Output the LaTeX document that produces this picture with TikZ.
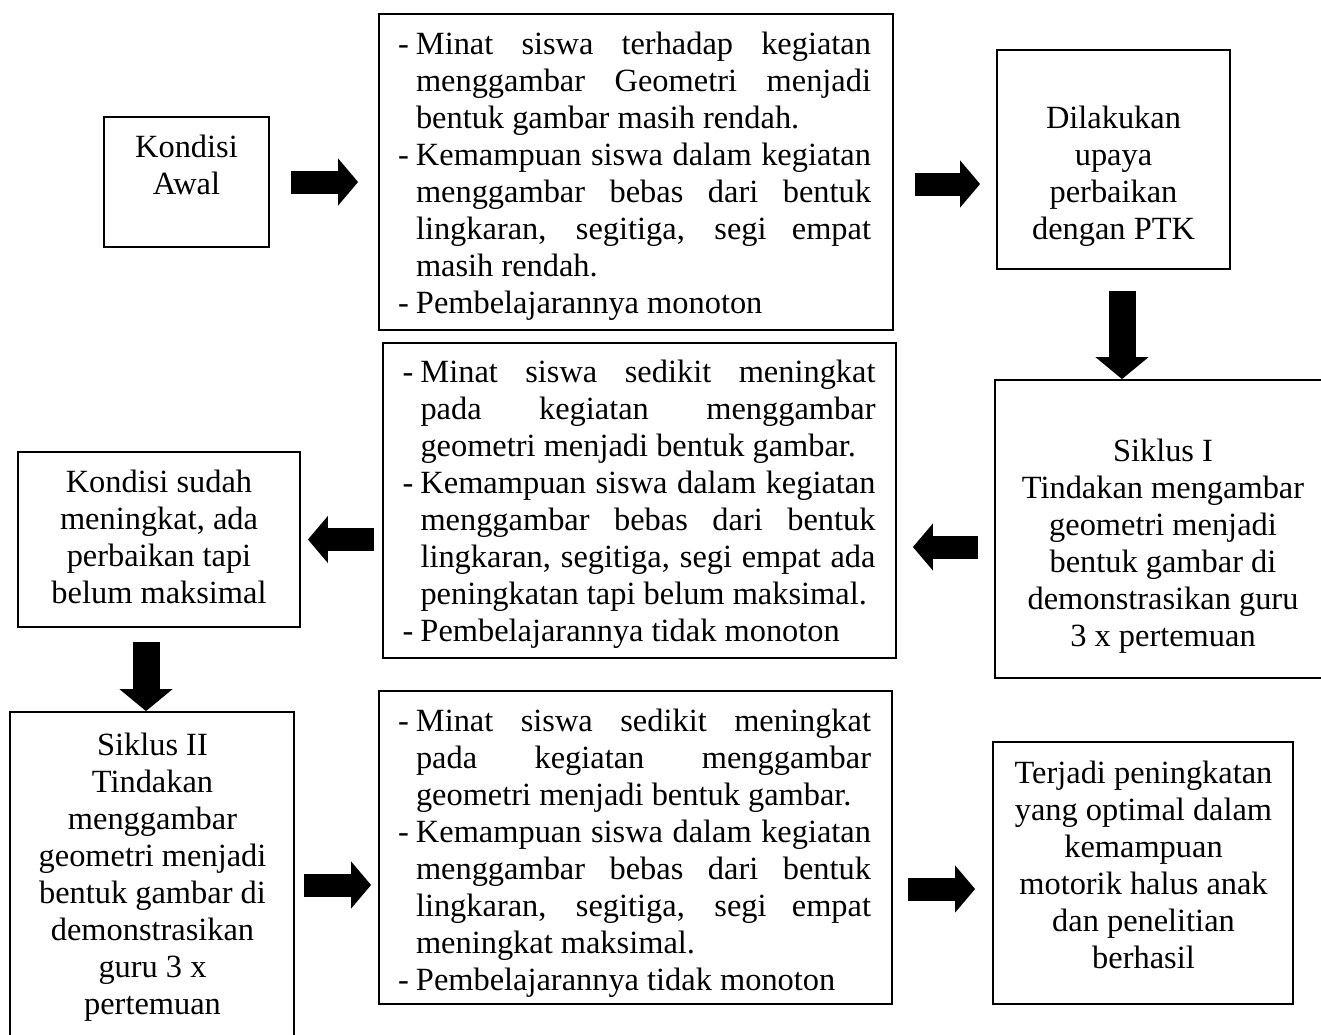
\documentclass[tikz,border=0pt]{standalone}
\usepackage{fontspec}
\setmainfont{Liberation Serif}
\usetikzlibrary{arrows.meta}

\tolerance=10000
\hyphenpenalty=10000
\newcommand{\butir}[1]{\noindent\hangindent=9pt\hangafter=1\makebox[9pt][l]{-}#1\par}

\tikzset{
  kotak/.style={draw, line width=0.9pt, inner sep=0pt},
  teks/.style={align=center, inner sep=0pt, font=\fontsize{16.2}{18.5}\selectfont},
  butirteks/.style={text width=236.5pt, align=justify, inner sep=0pt, font=\fontsize{16.2}{18.5}\selectfont},
  panah/.style={line width=11.5pt, -{Triangle[length=10pt,width=23pt]}},
  panahturun/.style={line width=13.5pt, -{Triangle[length=11pt,width=26pt]}}
}

\begin{document}
\begin{tikzpicture}[x=0.5pt,y=-0.5pt]
  \useasboundingbox (0,0) rectangle (1321,1034);
  % kotak-kotak
  \node[kotak, minimum width=82.5pt, minimum height=65pt] (awal) at (186.5,182) {};
  \node[kotak, minimum width=257pt, minimum height=158pt] (masalah) at (636,172) {};
  \node[kotak, minimum width=116.5pt, minimum height=109.5pt] (upaya) at (1113.5,159.5) {};
  \node[kotak, minimum width=168.5pt, minimum height=149pt] (siklus1) at (1163.5,529) {};
  \node[kotak, minimum width=256.5pt, minimum height=157.5pt] (hasil1) at (639.5,500.5) {};
  \node[kotak, minimum width=141pt, minimum height=87.5pt] (kondisi2) at (159,539.5) {};
  \node[kotak, minimum width=142pt, minimum height=164pt] (siklus2) at (152,876) {};
  \node[kotak, minimum width=256.5pt, minimum height=156.5pt] (hasil2) at (635.5,847.5) {};
  \node[kotak, minimum width=150pt, minimum height=131pt] (terjadi) at (1143,873) {};

  % isi
  \node[teks] (tawal) at (186.5,164.5) {Kondisi\\Awal};
  \node[butirteks] (tmasalah) at (634.5,176) {%
    \butir{Minat siswa terhadap kegiatan\linebreak menggambar Geometri menjadi\linebreak bentuk gambar masih rendah.}%
    \butir{Kemampuan siswa dalam kegiatan\linebreak menggambar bebas dari bentuk\linebreak lingkaran, segitiga, segi empat\linebreak masih rendah.}%
    \butir{Pembelajarannya monoton}};
  \node[teks] (tupaya) at (1113.5,176.5) {Dilakukan\\upaya\\perbaikan\\dengan PTK};
  \node[teks] (tsiklus1) at (1163,546) {Siklus I\\Tindakan mengambar\\geometri menjadi\\bentuk gambar di\\demonstrasikan guru\\3 x pertemuan};
  \node[butirteks] (thasil1) at (639,504) {%
    \butir{Minat siswa sedikit meningkat\linebreak pada kegiatan menggambar\linebreak geometri menjadi bentuk gambar.}%
    \butir{Kemampuan siswa dalam kegiatan\linebreak menggambar bebas dari bentuk\linebreak lingkaran, segitiga, segi empat ada\linebreak peningkatan tapi belum maksimal.}%
    \butir{Pembelajarannya tidak monoton}};
  \node[teks] (tkondisi2) at (159,537) {Kondisi sudah\\meningkat, ada\\perbaikan tapi\\belum maksimal};
  \node[teks] (tsiklus2) at (152.5,877.5) {Siklus II\\Tindakan\\menggambar\\geometri menjadi\\bentuk gambar di\\demonstrasikan\\guru 3 x\\pertemuan};
  \node[butirteks] (thasil2) at (634.5,853) {%
    \butir{Minat siswa sedikit meningkat\linebreak pada kegiatan menggambar\linebreak geometri menjadi bentuk gambar.}%
    \butir{Kemampuan siswa dalam kegiatan\linebreak menggambar bebas dari bentuk\linebreak lingkaran, segitiga, segi empat\linebreak meningkat maksimal.}%
    \butir{Pembelajarannya tidak monoton}};
  \node[teks] (tterjadi) at (1143.5,864.5) {Terjadi peningkatan\\yang optimal dalam\\kemampuan\\motorik halus anak\\dan penelitian\\berhasil};

  % panah
  \draw[panah, shorten <=10.5pt, shorten >=10pt] (awal.east) -- (awal.east -| masalah.west);
  \draw[panah, shorten <=10.5pt, shorten >=8pt] ([yshift=-1pt]masalah.east |- awal.east) -- ([yshift=-1pt]upaya.west |- awal.east);
  \draw[panahturun, shorten <=10.5pt] ([xshift=4.25pt]upaya.south) -- ([xshift=4.25pt]upaya.south |- siklus1.north);
  \draw[panah, shorten <=8pt, shorten >=8pt] ([yshift=-9pt]siklus1.west) -- ([yshift=-9pt]siklus1.west -| hasil1.east);
  \draw[panah, shorten <=4pt, shorten >=3.5pt] (hasil1.west |- kondisi2.east) -- (kondisi2.east);
  \draw[panahturun, shorten <=7pt] ([xshift=-6.5pt]kondisi2.south) -- ([xshift=-6.5pt]kondisi2.south |- siklus2.north);
  \draw[panah, shorten <=4.5pt, shorten >=3.5pt] (siklus2.east |- 0,885) -- (hasil2.west |- 0,885);
  \draw[panah, shorten <=7.5pt, shorten >=8.5pt] (hasil2.east |- 0,889) -- (terjadi.west |- 0,889);
\end{tikzpicture}
\end{document}
